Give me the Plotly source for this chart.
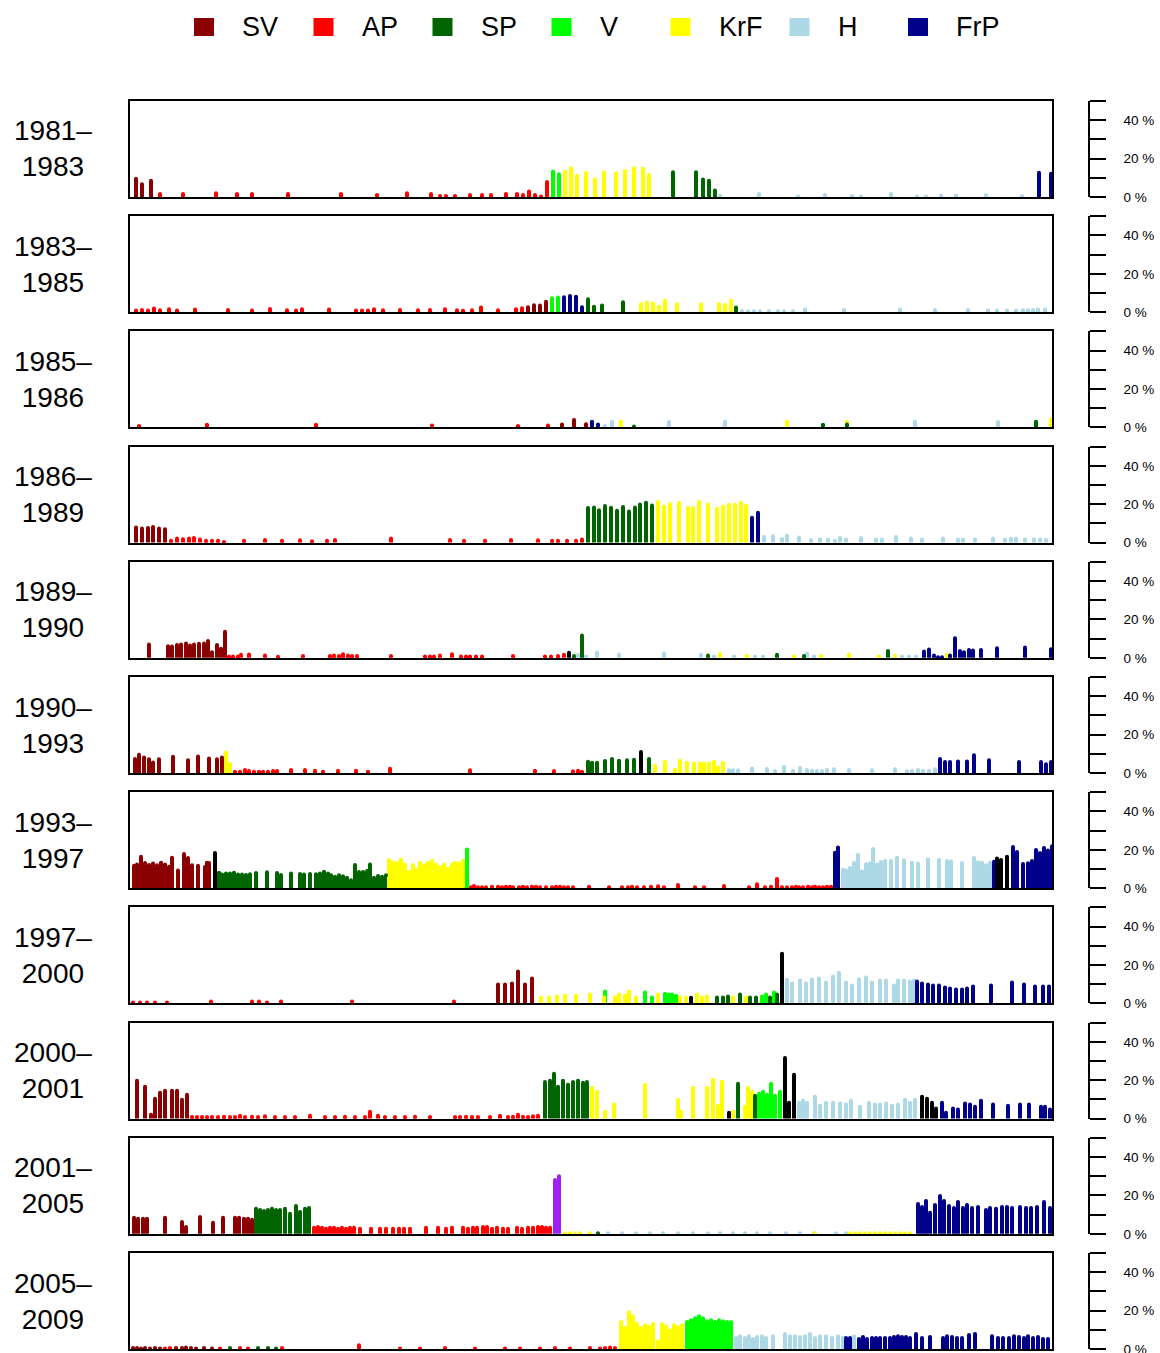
import plotly.graph_objects as go

# Party colours
COLORS = {
    "SV": "#8B0000", "AP": "#FF0000", "SP": "#006400", "V": "#00FF00",
    "KrF": "#FFFF00", "H": "#ADD8E6", "FrP": "#00008B",
    "Uavh": "#000000", "Kp": "#A020F0",
}
LEGEND_PARTIES = ["SV", "AP", "SP", "V", "KrF", "H", "FrP"]

PERIODS = ["1981–1983", "1983–1985", "1985–1986", "1986–1989", "1989–1990",
           "1990–1993", "1993–1997", "1997–2000", "2000–2001", "2001–2005",
           "2005–2009"]

# Each period: runs of (party, positions on the scale, share in %)
P_1981 = [
    ("SV", [136, 142, 151], [9.5, 6.6, 8.4]),
    ("AP", [160, 183, 216, 237, 252, 288, 341, 377, 407, 431, 440, 446, 455, 470, 482,
            491, 506, 517, 523, 529, 535, 541, 547],
           [1.5, 1.5, 2, 1.5, 1.5, 1.5, 1.5, 1, 2, 1.5, 0.5, 0.5, 0.5, 1, 1,
            1, 1.5, 1.5, 1, 2.9, 1, 0.3, 7.8]),
    ("V", [553, 559], [13.3, 11.9]),
    ("KrF", [565, 571, 577, 586, 595, 604, 616, 625, 634, 643, 649],
            [13.1, 15, 11.2, 12.6, 9.1, 12.8, 12.4, 13.6, 15, 14.7, 11.6]),
    ("SP", [673, 696, 703, 709, 715], [12.9, 12.9, 9.1, 8.4, 3.4]),
    ("H", [720, 759, 798, 825, 852, 861, 891, 917, 926, 941, 956, 986, 1022],
          [0.5, 1.5, 0.3, 1, 0.5, 0.3, 1.5, 0.3, 0.3, 0.8, 0.8, 1, 0.5]),
    ("FrP", [1039, 1051], [12.6, 12.1]),
]

P_1983 = [
    ("AP", [136, 142, 148, 154, 160, 169, 177, 195, 228, 252, 270, 287, 296, 302, 329,
            356, 362, 368, 374, 383, 400, 418, 430, 445, 457, 463, 472, 481, 498, 516, 522],
           [0.9, 1.2, 0.9, 1.9, 1, 1.5, 0.9, 1.4, 1.2, 0.9, 1.7, 1, 0.9, 1.5, 1.4,
            0.9, 0.9, 0.9, 1.5, 1, 1.2, 1, 1.2, 1.5, 1, 0.7, 1, 2.4, 1, 1.5, 2]),
    ("SV", [528, 534, 540, 546], [2.6, 3.6, 3.5, 5.4]),
    ("V", [552, 558], [7.3, 7.6]),
    ("FrP", [564, 570, 576, 582], [7.8, 8.5, 8.1, 2.6]),
    ("SP", [588, 594, 602, 623], [6.7, 2.9, 3.5, 5.2]),
    ("KrF", [641, 647, 653, 659, 665, 677, 701, 719, 725, 731],
            [4.1, 5, 4.5, 2.9, 5.9, 4.1, 4.1, 4.3, 3.8, 5.9]),
    ("SP", [736], [2.4]),
    ("H", [742, 748, 754, 760, 769, 778, 784, 793, 805, 844, 900, 935, 968, 988, 997,
           1007, 1016, 1023, 1028, 1033, 1038, 1045],
          [0.5, 0.5, 0.5, 0.5, 0.5, 0.5, 0.5, 0.5, 1.4, 1.2, 1.4, 1.2, 1.2, 0.9, 0.9,
           0.9, 0.9, 1, 1, 1.2, 1.4, 1.4]),
]

P_1985 = [
    ("AP", [139, 207, 316, 432, 518, 548], [0.7, 1.4, 1.4, 1, 0.7, 1]),
    ("SV", [562, 574, 586], [1.5, 3.8, 1.7]),
    ("FrP", [592, 598], [2.9, 1.5]),
    ("H", [605, 612], [0.7, 2.9]),
    ("KrF", [621], [3.1]),
    ("SP", [634], [0.5]),
    ("H", [669, 725], [2.8, 2.9]),
    ("KrF", [787], [2.9]),
    ("SP", [823], [1.4]),
    ("KrF", [847], [2.9]),
    ("SP", [847], [1.5]),
    ("H", [915, 998], [2.9, 2.8]),
    ("SP", [1036], [2.9]),
    ("KrF", [1051], [4.1]),
]

P_1986 = [
    ("SV", [136, 142, 148, 153, 159, 165], [7.8, 7.3, 7.6, 8.1, 7.3, 6.9]),
    ("AP", [171, 177, 183, 189, 194, 200, 206, 212, 218, 224, 244, 265, 282, 300, 312,
            327, 335, 391, 450, 464, 485, 511, 538, 552, 558, 567, 576, 582],
           [1, 2.1, 1.7, 2.2, 2.4, 1.6, 0.9, 1, 1, 0.3, 0.9, 1.4, 0.9, 1.2, 0.7,
            0.9, 1.4, 2.2, 1.4, 0.9, 0.9, 1.4, 1.2, 0.9, 0.9, 0.9, 0.9, 1.6]),
    ("SP", [588, 594, 599, 605, 611, 617, 623, 629, 635, 640, 646, 652],
           [18, 18.3, 16.8, 19, 18.1, 16.6, 18.6, 16.2, 18.3, 19.8, 20.7, 19.3]),
    ("KrF", [658, 664, 670, 679, 688, 693, 699, 708, 717, 723, 729, 735, 741, 746],
            [21.2, 18.8, 20, 20.6, 18.1, 18, 21.1, 19.9, 17.6, 18.8, 19.7, 19.9, 20.7, 19.2]),
    ("FrP", [752, 758], [13, 15.5]),
    ("H", [764, 773, 782, 787, 799, 811, 820, 828, 835, 840, 846, 861, 876, 882, 896,
           911, 922, 943, 958, 963, 975, 993, 1005, 1011, 1016, 1025, 1034, 1040, 1046],
          [2.9, 3.3, 1.9, 3.6, 2.6, 1.2, 1.7, 1.6, 1, 2.4, 1.6, 2.4, 1.6, 1.6, 2.9,
           2.1, 1.6, 2.1, 1.6, 1.6, 1.6, 2.2, 1.6, 2.1, 2.1, 1.6, 1.7, 1.6, 1.4]),
]

P_1989 = [
    ("SV", [149, 168, 172, 177, 181, 186, 190, 194, 199, 204, 208, 212, 217, 221, 225],
           [6.9, 6, 5.9, 6.7, 6.9, 7.4, 6.4, 6.9, 7.3, 7.4, 8.8, 2.9, 6.7, 4.7, 13.6]),
    ("AP", [229, 233, 238, 241, 249, 265, 278, 303, 330, 334, 339, 343, 348, 352, 357,
            391, 425, 430, 434, 440, 452, 461, 466, 470, 476, 482, 513, 545, 551, 558, 564],
           [0.7, 0.7, 0.7, 1.6, 1.7, 1.2, 0.5, 0.9, 0.9, 1.2, 0.9, 1.9, 1.2, 0.9, 0.9,
            0.9, 0.7, 0.7, 0.7, 1.2, 1.9, 0.7, 0.7, 0.7, 0.7, 0.7, 1, 0.7, 0.7, 1, 1.6]),
    ("Uavh", [569], [2.6]),
    ("SP", [574], [0.9]),
    ("H", [578], [1.4]),
    ("SP", [582], [11.6]),
    ("H", [586, 597, 619, 664, 701, 714, 734, 755, 763, 807, 814, 902, 909, 916],
          [0.7, 2.8, 1.7, 2.2, 1.6, 0.7, 0.7, 0.7, 0.7, 2.2, 0.7, 0.7, 0.7, 0.7]),
    ("SP", [708, 777, 804, 888], [1.2, 1.6, 0.9, 3.5]),
    ("KrF", [720, 747, 794, 821, 849, 879, 895, 947], [1.9, 1, 0.7, 1, 1.7, 0.7, 1.2, 1.6]),
    ("FrP", [924, 929, 934, 938, 942, 950, 955, 960, 964, 969, 973, 981, 997, 1025, 1051],
            [3.3, 4.3, 1.2, 0.3, 0.3, 1.2, 10.2, 3.5, 2.9, 4, 3.8, 4, 5, 5.4, 4.5]),
]

P_1990 = [
    ("SV", [135, 139, 144, 149, 153, 159, 173, 188, 198, 209, 217, 222],
           [7.3, 9.5, 8.1, 7.1, 5.5, 7.1, 8.5, 6.7, 8.6, 7.6, 7.1, 8.1]),
    ("KrF", [226, 230], [10.7, 4.7]),
    ("AP", [235, 240, 245, 249, 254, 259, 263, 268, 273, 277, 291, 305, 315, 323, 338,
            356, 368, 390, 470, 535, 554, 573, 578, 582],
           [0.7, 0.7, 1.6, 1, 0.7, 0.7, 0.7, 0.7, 1, 1, 1.6, 1.6, 1.2, 0.7, 1.2,
            1.2, 0.7, 2.2, 1.4, 1.2, 1, 0.9, 1.2, 0.7]),
    ("SP", [588, 592, 597, 605, 612, 619, 627, 634], [5.9, 5.4, 5.4, 6.2, 7.3, 6.4, 6.6, 6.9]),
    ("Uavh", [641], [10.9]),
    ("SP", [649], [7.3]),
    ("KrF", [655, 665, 675, 680, 687, 694, 700, 704, 709, 714, 718, 723],
            [3.8, 5.9, 1.7, 6.4, 5.4, 5, 5, 5, 5, 5.9, 2.8, 5.2]),
    ("H", [729, 733, 738, 752, 767, 775, 784, 793, 800, 807, 812, 817, 822, 827, 834,
           849, 872, 895, 907, 912, 918, 923, 929, 935],
          [1.4, 1.4, 1.4, 2.4, 2.1, 1, 3.3, 1.2, 2.6, 1.6, 1.2, 1, 1, 1.7, 1.9,
           1.6, 1.6, 1.9, 0.9, 1, 1.6, 1.2, 1.2, 1.9]),
    ("FrP", [940, 945, 950, 958, 967, 974, 989, 1019, 1041, 1046, 1051],
            [7.3, 5.7, 5.7, 6, 6, 9.3, 6.7, 5.7, 5.7, 4.5, 5.7]),
]

P_1993 = [
    ("SV", [134, 137, 141, 145, 149, 153, 157, 161, 165, 169, 172, 178, 184, 188, 192,
            198, 205, 207, 209],
           [11.7, 12.3, 16.4, 13.1, 12.1, 12.8, 11.9, 13.3, 12.3, 11.2, 15.9, 9.2, 17.8, 15.7, 11.9,
            11.7, 11.1, 13.3, 13.1]),
    ("Uavh", [215], [18.3]),
    ("SP", [219, 222, 226, 230, 234, 238, 242, 246, 250, 256, 267, 277, 281, 291, 300,
            304, 310, 316, 320, 324, 328, 331, 335, 339, 343, 347, 351, 355, 359, 363,
            367, 370, 374, 378, 382, 386],
           [8.1, 7.1, 7.6, 7.6, 8.1, 7.1, 7.1, 6.9, 7.3, 7.9, 8.3, 7.9, 6.9, 7.6, 7.4,
            7.1, 7.4, 7.3, 7.6, 8.6, 7.6, 6.7, 5.9, 6.7, 6.2, 5.4, 4.1, 12.1, 8.5, 8.5,
            9, 12.3, 5.4, 6.4, 5.9, 6.7]),
    ("KrF", [389, 393, 397, 401, 405, 409, 413, 417, 420, 424, 428, 432, 436, 440, 444,
             448, 452, 455, 459, 463],
            [14.7, 13.5, 13.1, 14.9, 12.3, 8.6, 12.1, 9.8, 13.3, 11.9, 13.3, 14.2, 12.4, 11.1, 12.3,
             10.2, 12.3, 13.3, 12.8, 14.3]),
    ("V", [467], [20.2]),
    ("AP", [471, 474, 478, 482, 486, 492, 498, 502, 506, 510, 513, 519, 523, 527, 532,
            536, 540, 546, 552, 556, 560, 564, 568, 573, 589, 609, 622, 628, 632, 637,
            644, 651, 658, 664, 678, 695, 704, 724, 749, 757, 765, 771, 777, 782, 787,
            792, 796, 799, 803, 808, 812, 815, 819, 823, 827, 831],
           [0.5, 1.2, 0.5, 0.5, 0.5, 0.7, 0.7, 0.5, 0.7, 0.7, 0.5, 0.5, 0.7, 0.5, 0.7,
            0.7, 0.5, 0.5, 0.5, 0.7, 0.7, 0.5, 0.5, 0.5, 0.7, 0.5, 0.5, 0.5, 0.7, 0.5,
            0.5, 0.7, 1.0, 0.5, 1.7, 0.5, 0.5, 1.2, 0.5, 2.1, 0.5, 0.7, 4.8, 0.5, 0.5,
            0.5, 0.7, 0.5, 0.5, 0.7, 0.5, 0.7, 0.5, 0.5, 0.7, 0.7]),
    ("FrP", [835, 838], [18.5, 21.2]),
    ("H", [843, 846, 850, 854, 858, 862, 866, 870, 873, 877, 881, 885, 891, 897, 904,
           912, 918, 928, 939, 947, 951, 962, 974, 978, 982, 986, 990],
          [9.7, 9.2, 10.5, 13.3, 17.4, 8.8, 12.6, 13, 20.4, 12.3, 13.6, 14.2, 14.2, 15.9, 14.5,
           13.3, 12.8, 15, 14.7, 14.2, 14, 13.1, 15.7, 13.5, 13.3, 11.9, 13.3]),
    ("FrP", [994], [13.8]),
    ("Uavh", [997, 1001, 1007], [15.5, 14.7, 16.4]),
    ("FrP", [1013, 1017, 1023, 1028, 1032, 1036, 1040, 1044, 1048, 1052],
            [21.4, 18.8, 12.6, 13, 14.2, 19.9, 18.3, 20.9, 19.7, 21.9]),
]

P_1997 = [
    ("AP", [133, 140, 147, 155, 167, 211, 252, 259, 267, 281, 352, 454],
           [0.5, 0.5, 0.5, 0.5, 0.5, 1, 1, 1, 0.5, 1, 1, 1]),
    ("SV", [498, 505, 512, 518, 525, 532], [9.8, 9.8, 10.4, 16.6, 9.8, 13]),
    ("KrF", [541, 549, 557, 565, 576, 590], [3.1, 3.1, 3.6, 4, 4, 4.7]),
    ("V", [605], [6.2]),
    ("KrF", [604, 615, 619, 625, 629, 636], [3.1, 3.1, 4.7, 4, 6.2, 3.1]),
    ("V", [645, 652], [5.7, 3.1]),
    ("KrF", [658], [4.7]),
    ("V", [665, 669, 672, 676], [5, 4.7, 4.7, 4]),
    ("KrF", [680, 686], [3.1, 3.1]),
    ("Uavh", [691], [3]),
    ("KrF", [697, 702, 707], [4.7, 3.1, 3.6]),
    ("SP", [717, 723, 728], [3.1, 3.1, 3.6]),
    ("KrF", [733], [3.1]),
    ("SP", [740], [4.7]),
    ("KrF", [746], [3.1]),
    ("SP", [750, 756], [3.1, 3.1]),
    ("V", [762, 766], [3.6, 4.7]),
    ("SP", [770], [3.1]),
    ("V", [774], [5.7]),
    ("SP", [777], [4.7]),
    ("Uavh", [782], [25.9]),
    ("H", [787, 792, 800, 806, 812, 819, 826, 833, 839, 846, 852, 859, 866, 872, 880,
           886, 894, 898, 904, 910, 914],
          [12.4, 10.4, 11.9, 10.4, 12.4, 13, 10.9, 14, 16, 10.9, 9.3, 12.4, 13.5, 10.9, 11.9,
           11.9, 9.3, 11.9, 11.9, 11.4, 11.9]),
    ("FrP", [917, 922, 928, 933, 939, 945, 950, 956, 962, 967, 973, 991, 1012, 1024, 1035,
             1043, 1049],
            [11.4, 10.4, 9.8, 9.3, 9.3, 8.3, 7.8, 7.3, 7.3, 7.8, 8.8, 9.3, 10.9, 9.8, 8.8,
             8.8, 8.8]),
]

P_2000 = [
    ("SV", [137, 145, 151, 155, 160, 165, 172, 177, 182, 187],
           [19.7, 16.6, 2, 10.4, 13.5, 14.5, 14.5, 14.5, 9.8, 12.4]),
    ("AP", [192, 197, 202, 207, 212, 218, 224, 230, 235, 240, 245, 252, 258, 265, 275,
            285, 295, 310, 325, 335, 345, 355, 365, 370, 378, 385, 395, 405, 415, 430,
            455, 460, 466, 472, 478, 490, 500, 508, 513, 518, 523, 528, 533, 538],
           [0.8, 0.8, 0.8, 0.8, 0.8, 0.8, 1.0, 0.8, 0.8, 1.5, 0.8, 1.0, 0.8, 1.2, 0.8,
            0.8, 0.8, 1.5, 0.8, 0.8, 1.0, 0.8, 0.8, 3.6, 1.5, 0.8, 0.8, 0.8, 1.0, 0.8,
            0.8, 0.8, 1.0, 0.8, 0.8, 0.8, 1.5, 0.8, 1.0, 2.0, 1.0, 0.8, 1.2, 1.5]),
    ("SP", [545, 550, 554, 558, 563, 568, 573, 578, 583, 587],
           [19, 19.7, 23.3, 16.6, 19.7, 17.6, 19, 19.7, 18.7, 19]),
    ("KrF", [592, 597, 605, 614, 645, 678, 681, 693, 707, 713, 718, 722],
            [16, 14, 3.6, 7.3, 17.6, 9.8, 3.6, 16, 16, 20.2, 6.7, 19.2]),
    ("Uavh", [729], [3]),
    ("KrF", [733], [3.6]),
    ("SP", [738], [18.1]),
    ("KrF", [745, 748, 752], [6.2, 16, 14]),
    ("SP", [755], [11.9]),
    ("V", [759, 763, 767, 771, 775, 780], [13, 14, 12.4, 18.1, 11.9, 14]),
    ("Uavh", [785, 789, 794], [31.6, 8.3, 22.8]),
    ("H", [799, 803, 807, 815, 820, 826, 833, 840, 846, 851, 860, 869, 875, 880, 886,
           892, 898, 905, 910, 915],
          [8.3, 9.3, 8.3, 11.4, 6.7, 8.3, 8.3, 7.8, 7.3, 9.3, 6.2, 8.3, 7.3, 7.3, 7.8,
           6.7, 7.3, 9.8, 8.3, 9.8]),
    ("Uavh", [922, 927, 932, 936], [11.4, 10.4, 8.3, 5.2]),
    ("FrP", [942, 946, 953, 958, 965, 970, 975, 981, 993, 1008, 1020, 1029, 1041, 1045, 1050],
            [8.3, 3.1, 5.2, 4.7, 7.8, 7.3, 6.2, 9.3, 7.3, 6.7, 7.3, 7.3, 6.2, 6.2, 4.7]),
]

P_2001 = [
    ("SV", [134, 138, 143, 147, 165, 182, 186, 200, 213, 223, 235, 239, 244, 248, 252],
           [8.3, 7.8, 7.8, 7.8, 8.3, 6.2, 3.6, 8.8, 5.7, 8.3, 8.3, 8.3, 7.8, 7.8, 7.3]),
    ("SP", [256, 260, 264, 268, 272, 276, 280, 285, 290, 296, 300, 305, 309],
           [13, 12.4, 11.9, 12.4, 13, 12.4, 12.4, 13, 10.4, 14.5, 11.4, 13, 13.5]),
    ("AP", [314, 318, 322, 326, 330, 334, 338, 342, 346, 350, 354, 360, 371, 380, 386,
            393, 399, 404, 410, 426, 438, 446, 452, 463, 468, 473, 477, 483, 487, 492,
            497, 503, 508, 517, 522, 528, 533, 538, 542, 546, 550],
           [3.1, 3.6, 3.1, 2.6, 3.1, 3.1, 2.6, 3.1, 2.6, 3.1, 3.1, 2.6, 2.6, 2.6, 2.6,
            2.6, 2.6, 2.6, 2.6, 3.1, 3.1, 2.6, 3.1, 3.1, 2.6, 3.1, 3.1, 3.6, 3.6, 2.6,
            3.1, 2.6, 2.6, 3.1, 2.6, 3.1, 3.1, 3.6, 3.6, 3.1, 3.1]),
    ("Kp", [555, 559], [28, 30]),
    ("KrF", [565, 570, 575, 580, 590], [0.3, 0.3, 0.3, 0.3, 0.3]),
    ("SP", [598], [0.3]),
    ("H", [608, 622, 636, 650, 663, 678, 693, 708, 720, 733, 745, 757, 770, 786, 800,
           814, 836, 846],
          [0.3, 0.3, 0.3, 0.3, 0.3, 0.3, 0.3, 0.3, 0.3, 0.3, 0.3, 0.3, 0.3, 0.3, 0.3,
           0.3, 0.3, 0.3]),
    ("KrF", [815, 850, 855, 860, 865, 870, 875, 880, 885, 890, 895, 900, 905, 910],
            [0.3, 0.3, 0.3, 0.3, 0.3, 0.3, 0.3, 0.3, 0.3, 0.3, 0.3, 0.3, 0.3, 0.3]),
    ("FrP", [918, 922, 926, 930, 935, 940, 944, 949, 954, 958, 963, 967, 972, 978, 986,
             990, 996, 1002, 1007, 1012, 1020, 1026, 1031, 1037, 1044, 1050],
            [15.5, 14, 17.1, 10.9, 15, 19.7, 17.1, 14.5, 13.5, 16.6, 13.5, 15, 13.5, 14, 12.4,
             13.5, 13, 14, 14, 13.5, 14, 13.5, 13.5, 14, 16.6, 13.5]),
]

P_2005 = [
    ("SV", [133, 137, 141, 145, 150, 155, 160, 176, 182, 186, 191, 196, 204, 212],
           [0.5, 0.5, 0.3, 0.5, 0.3, 0.5, 0.3, 0.5, 0.5, 0.8, 0.5, 0.3, 0.5, 0.3]),
    ("AP", [165, 170, 220, 240, 248, 282, 359, 400, 420, 445, 475, 505, 520, 540, 555,
            570, 590, 600, 605, 610, 615],
           [0.3, 0.5, 0.3, 0.5, 0.3, 0.5, 2.0, 0.3, 0.3, 0.5, 0.3, 0.3, 0.3, 0.3, 0.5,
            0.3, 0.5, 0.3, 0.5, 0.8, 0.5]),
    ("SP", [230, 258, 268, 276], [0.5, 0.5, 0.5, 0.3]),
    ("KrF", [621, 625, 629, 633, 637, 641, 645, 649, 653, 658, 662, 666, 670, 674, 678, 682],
            [14, 10.9, 19.2, 17.1, 13, 10.9, 12.4, 11.4, 13, 4.1, 13, 11.9, 9.8, 12.4, 11.4, 12.4]),
    ("V", [687, 691, 695, 699, 703, 707, 711, 715, 719, 723, 727, 731],
          [14, 15, 16, 17.1, 16, 14.5, 15, 14, 15, 14.5, 14, 14]),
    ("H", [736, 740, 745, 749, 753, 757, 762, 766, 773, 785, 790, 795, 800, 805, 810,
           815, 820, 826, 832, 838, 843, 854],
          [5.7, 6.7, 5.7, 6.7, 5.2, 6.2, 6.7, 5.7, 6.7, 7.8, 6.7, 6.7, 6.2, 6.7, 7.8,
           5.7, 6.7, 6.7, 5.7, 6.7, 5.7, 6.7]),
    ("FrP", [846, 850, 859, 863, 867, 872, 876, 880, 885, 890, 894, 898, 902, 906, 910,
             916, 922, 930, 943, 947, 952, 957, 962, 969, 975, 992, 998, 1003, 1009, 1014,
             1019, 1024, 1028, 1033, 1038, 1043, 1048],
            [5.7, 5.7, 5.2, 6.2, 5.2, 5.7, 5.7, 5.7, 5.7, 5.7, 6.2, 6.7, 6.2, 6.2, 5.7,
             7.8, 5.7, 6.2, 5.7, 6.7, 6.2, 5.7, 5.7, 7.3, 7.8, 6.7, 5.7, 5.7, 5.7, 6.7,
             6.2, 5.7, 6.7, 5.7, 6.2, 5.2, 5.2]),
]

PANELS = [P_1981, P_1983, P_1985, P_1986, P_1989, P_1990, P_1993, P_1997,
          P_2000, P_2001, P_2005]

SCALE_RANGE = [130, 1052]
SHARE_RANGE = [0, 50]

# ---------------------------------------------------------------- layout
W, H = 1160, 1353
FONT = "Liberation Sans, Arial, Helvetica, sans-serif"
PLOT_LEFT, PLOT_RIGHT = 130, 1052
FIRST_TOP, PANEL_H, PANEL_STEP = 101, 96, 115.2
RIGHT_AXIS_X = 1089


def fx(px):
    return px / W


def fy(py):
    return 1 - py / H


fig = go.Figure()
layout = dict(
    width=W, height=H, margin=dict(l=0, r=0, t=0, b=0, autoexpand=False),
    paper_bgcolor="white", plot_bgcolor="white",
    showlegend=False, barmode="overlay", bargap=0,
    font=dict(family=FONT, color="black"),
)
annotations, shapes = [], []

n = len(PANELS)
for i, (runs, label) in enumerate(zip(PANELS, PERIODS)):
    xa, ya, ra = f"x{i + 1}", f"y{i + 1}", f"y{n + i + 1}"
    top = FIRST_TOP + PANEL_STEP * i
    bottom = top + PANEL_H
    dom_y = [max(fy(bottom), 0), fy(top)]

    xs, ys, cols = [], [], []
    for party, pos, share in runs:
        assert len(pos) == len(share), (label, party)
        xs += pos
        ys += share
        cols += [COLORS[party]] * len(pos)

    fig.add_trace(go.Bar(
        x=xs, y=ys, width=3.8, xaxis=xa, yaxis=ya,
        marker=dict(color=cols, line=dict(width=0)), hoverinfo="skip",
    ))
    # rounded ends of the vertical strokes
    fig.add_trace(go.Scatter(
        x=xs, y=ys, mode="markers", xaxis=xa, yaxis=ya, cliponaxis=False,
        marker=dict(size=4, color=cols, line=dict(width=0)), hoverinfo="skip",
    ))
    # percentage scale on the right of each panel
    fig.add_trace(go.Scatter(x=[], y=[], xaxis=xa, yaxis=ra, hoverinfo="skip"))

    layout[f"xaxis{i + 1}"] = dict(
        domain=[fx(PLOT_LEFT), fx(PLOT_RIGHT)], range=SCALE_RANGE, anchor=ya,
        showline=True, mirror=True, linecolor="black", linewidth=1.5,
        showticklabels=False, ticks="", showgrid=False, zeroline=False,
    )
    layout[f"yaxis{i + 1}"] = dict(
        domain=dom_y, range=SHARE_RANGE, anchor=xa,
        showline=True, mirror=True, linecolor="black", linewidth=1.5,
        showticklabels=False, ticks="", showgrid=False, zeroline=False,
    )
    layout[f"yaxis{n + i + 1}"] = dict(
        overlaying=ya, anchor="free", position=fx(RIGHT_AXIS_X), side="right",
        range=SHARE_RANGE, tickmode="array",
        tickvals=[0, 10, 20, 30, 40, 50],
        ticktext=["0 %", "", "20 %", "", "40 %", ""],
        ticks="outside", ticklen=16, tickwidth=1.5, tickcolor="black",
        showline=True, linewidth=1.5, linecolor="black",
        showgrid=False, zeroline=False, ticklabelstandoff=15,
        ticklabeloverflow="allow",
        tickfont=dict(size=13.5, family=FONT, color="black"),
    )

    start, end = label.split("–")
    annotations.append(dict(
        text=f"{start}–<br>{end}", x=fx(53), y=fy((top + bottom) / 2),
        xref="paper", yref="paper", xanchor="center", yanchor="middle",
        showarrow=False, align="center",
        font=dict(size=28, family=FONT, color="black"),
    ))

# legend across the top
LEG_X = [204, 323.5, 442.5, 561.5, 680.5, 799.5, 918]
for party, cx in zip(LEGEND_PARTIES, LEG_X):
    shapes.append(dict(
        type="rect", xref="paper", yref="paper",
        x0=fx(cx - 10), x1=fx(cx + 10), y0=fy(36), y1=fy(18),
        fillcolor=COLORS[party], line=dict(width=0),
    ))
    annotations.append(dict(
        text=party, x=fx(cx + 36), y=fy(27), xref="paper", yref="paper",
        xanchor="left", yanchor="middle", showarrow=False,
        font=dict(size=27, family=FONT, color="black"),
    ))

layout["annotations"] = annotations
layout["shapes"] = shapes
fig.update_layout(**layout)

fig.write_html("out.html")
